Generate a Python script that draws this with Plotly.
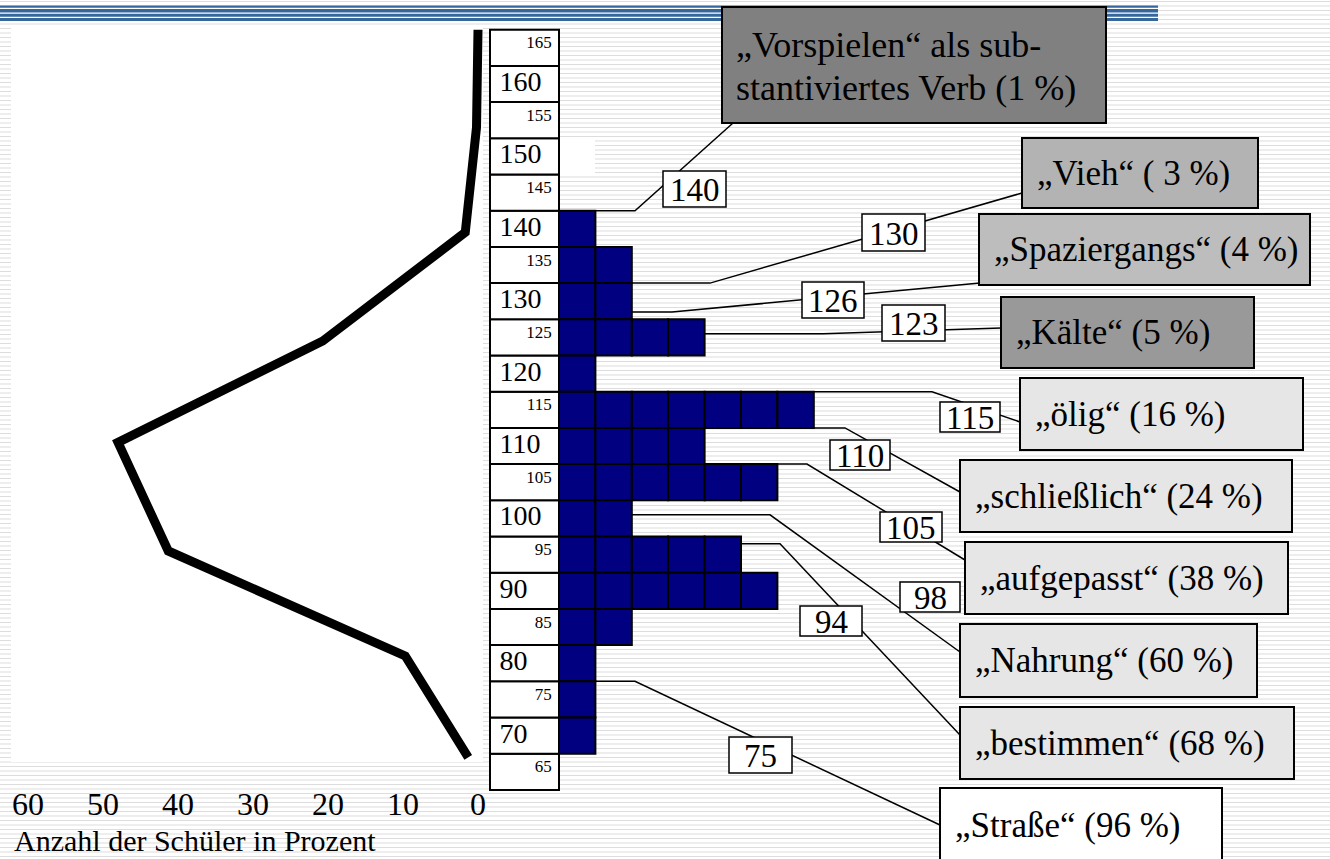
import plotly.graph_objects as go

# ------------------------------------------------------------------ data
# histogram of scores: upper bound of each 5-point bin and number of pupils (squares)
bin_upper = [140, 135, 130, 125, 120, 115, 110, 105, 100, 95, 90, 85, 80, 75, 70]
bin_count = [1, 2, 2, 4, 1, 7, 4, 6, 2, 5, 6, 2, 1, 1, 1]

# labels of the score scale column
scale_major = [160, 150, 140, 130, 120, 110, 100, 90, 80, 70]
scale_minor = [165, 155, 145, 135, 125, 115, 105, 95, 85, 75, 65]

# distribution line (percentage of pupils vs. score)
line_percent = [0, 0.2, 1.7, 20.7, 48, 41.3, 9.7, 1.3]
line_score = [165, 151.5, 137, 122, 108, 93, 78.5, 64.5]

pct_ticks = [60, 50, 40, 30, 20, 10, 0]
axis_title = "Anzahl der Schüler in Prozent"

# item difficulty call-outs
callout_values = [140, 130, 126, 123, 115, 110, 105, 98, 94, 75]
callout_bar_end = [1, 2, 2, 4, 7, 7, 6, 2, 5, 1]
word_labels = [
    ["„Vorspielen“ als sub-", "stantiviertes Verb (1 %)"],
    ["„Vieh“ ( 3 %)"],
    ["„Spaziergangs“ (4 %)"],
    ["„Kälte“ (5 %)"],
    ["„ölig“ (16 %)"],
    ["„schließlich“ (24 %)"],
    ["„aufgepasst“ (38 %)"],
    ["„Nahrung“ (60 %)"],
    ["„bestimmen“ (68 %)"],
    ["„Straße“ (96 %)"],
]

# ------------------------------------------------------------------ layout geometry (pixels)
W, H = 1330, 859
Y140_PX, PX_PER_PT = 210.7, 7.24          # score scale
SQ, X2_0 = 36.4, 559.0                    # one square / left edge of histogram
PCT_PX, PCT_ZERO = 7.5, 478.0             # percent scale
COL_W = (X2_0 - 490.0) / SQ               # scale column width in squares
FONT = "Liberation Serif"

def fx(px):
    return px / W

def fy(py):
    return 1 - py / H

def score_px(v):
    return Y140_PX - (v - 140) * PX_PER_PT

def count_px(n):
    return X2_0 + n * SQ

y_lo = 140 - (H - Y140_PX) / PX_PER_PT
y_hi = 140 + Y140_PX / PX_PER_PT

word_boxes = [  # x0, y0, x1, y1, fill
    (722, 7, 1106, 123, "#808080"),
    (1022, 138, 1258, 208, "#b3b3b3"),
    (979, 214, 1310, 285, "#bdbdbd"),
    (1001, 297, 1254, 368, "#999999"),
    (1020, 378, 1303, 450, "#e6e6e6"),
    (960, 460, 1292, 532, "#e6e6e6"),
    (965, 542, 1288, 614, "#e6e6e6"),
    (960, 624, 1257, 697, "#e6e6e6"),
    (960, 707, 1294, 779, "#e6e6e6"),
    (940, 788, 1222, 875, "#ffffff"),
]
num_boxes = [
    (663, 171, 726, 207), (862, 214, 925, 251), (802, 282, 864, 318),
    (882, 305, 945, 341), (940, 402, 1000, 432), (830, 440, 890, 470),
    (880, 512, 942, 542), (900, 582, 960, 612), (800, 606, 862, 636),
    (729, 737, 792, 773),
]
# elbow x and end point of each connector
connectors = [
    (635, (733, 123)), (710, (1022, 193)), (672, (980, 283)),
    (823, (1001, 328)), (932, (1020, 422)), (845, (960, 492)),
    (807, (965, 560)), (770, (960, 652)), (780, (960, 735)),
    (635, (940, 825)),
]

fig = go.Figure()

# scale column cells
all_cells = sorted(scale_major + scale_minor)
fig.add_trace(go.Bar(
    orientation="h", y=[v - 2.5 for v in all_cells], x=[COL_W] * len(all_cells),
    base=-COL_W, width=5, marker=dict(color="white", line=dict(color="black", width=2)),
    xaxis="x2", yaxis="y", hoverinfo="skip"))

# histogram squares
for k in range(1, max(bin_count) + 1):
    ys = [u - 2.5 for u, c in zip(bin_upper, bin_count) if c >= k]
    fig.add_trace(go.Bar(
        orientation="h", y=ys, x=[1] * len(ys), base=k - 1, width=5,
        marker=dict(color="#000080", line=dict(color="black", width=2)),
        xaxis="x2", yaxis="y", hoverinfo="skip"))

# scale labels
fig.add_trace(go.Scatter(
    x=[-COL_W + 0.26] * len(scale_major), y=[v - 2.5 for v in scale_major],
    text=[str(v) for v in scale_major], mode="text", textposition="middle right",
    textfont=dict(family=FONT, size=28, color="black"), xaxis="x2", yaxis="y",
    hoverinfo="skip", cliponaxis=False))
fig.add_trace(go.Scatter(
    x=[-0.2] * len(scale_minor), y=[v - 2.0 for v in scale_minor],
    text=[str(v) for v in scale_minor], mode="text", textposition="middle left",
    textfont=dict(family=FONT, size=17, color="black"), xaxis="x2", yaxis="y",
    hoverinfo="skip", cliponaxis=False))

# distribution line
fig.add_trace(go.Scatter(
    x=line_percent, y=line_score, mode="lines",
    line=dict(color="black", width=9), xaxis="x", yaxis="y", hoverinfo="skip"))

shapes = []
# striped slide background
path = "".join(f"M0,{fy(py):.5f}H1" for py in [1.5 + 4.5 * i for i in range(int(H / 4.5) + 1)])
shapes.append(dict(type="path", path=path, xref="paper", yref="paper",
                   line=dict(color="#dddddd", width=1), layer="below"))
shapes.append(dict(type="rect", xref="paper", yref="paper", x0=fx(11), x1=fx(483),
                   y0=fy(28), y1=fy(762), fillcolor="white", line=dict(width=0), layer="below"))
shapes.append(dict(type="rect", xref="paper", yref="paper", x0=fx(559), x1=fx(595),
                   y0=fy(138), y1=fy(173), fillcolor="white", line=dict(width=0), layer="below"))
# blue title band
shapes.append(dict(type="rect", xref="paper", yref="paper", x0=0, x1=fx(1158),
                   y0=fy(5.5), y1=fy(21), fillcolor="#35679c", line=dict(width=0), layer="below"))
for py in (8.3, 13.2, 17.3):
    shapes.append(dict(type="line", xref="paper", yref="paper", x0=0, x1=fx(1158),
                       y0=fy(py), y1=fy(py), line=dict(color="white", width=1.2), layer="below"))

# connectors
for val, n, (ex, end) in zip(callout_values, callout_bar_end, connectors):
    sx, sy = count_px(n), score_px(val)
    p = f"M{fx(sx):.5f},{fy(sy):.5f}L{fx(ex):.5f},{fy(sy):.5f}L{fx(end[0]):.5f},{fy(end[1]):.5f}"
    shapes.append(dict(type="path", path=p, xref="paper", yref="paper",
                       line=dict(color="black", width=1.5), layer="above"))

# boxes
for x0, y0, x1, y1, fill in word_boxes:
    shapes.append(dict(type="rect", xref="paper", yref="paper", x0=fx(x0), x1=fx(x1),
                       y0=fy(y0), y1=fy(y1), fillcolor=fill,
                       line=dict(color="black", width=2), layer="above"))
for x0, y0, x1, y1 in num_boxes:
    shapes.append(dict(type="rect", xref="paper", yref="paper", x0=fx(x0), x1=fx(x1),
                       y0=fy(y0), y1=fy(y1), fillcolor="white",
                       line=dict(color="black", width=1.5), layer="above"))

annotations = []
for (x0, y0, x1, y1, fill), lines in zip(word_boxes, word_labels):
    if len(lines) == 1:
        yc = (y0 + y1) / 2 if y1 <= H else 825
        annotations.append(dict(text=lines[0], x=fx(x0 + 13), y=fy(yc), xref="paper", yref="paper",
                                xanchor="left", yanchor="middle", showarrow=False,
                                font=dict(family=FONT, size=35, color="black")))
    else:
        for i, t in enumerate(lines):
            annotations.append(dict(text=t, x=fx(x0 + 12), y=fy(45 + 43 * i), xref="paper", yref="paper",
                                    xanchor="left", yanchor="middle", showarrow=False,
                                    font=dict(family=FONT, size=36, color="black")))
for (x0, y0, x1, y1), val in zip(num_boxes, callout_values):
    annotations.append(dict(text=str(val), x=fx((x0 + x1) / 2), y=fy((y0 + y1) / 2 + 1),
                            xref="paper", yref="paper", xanchor="center", yanchor="middle",
                            showarrow=False, font=dict(family=FONT, size=33, color="black")))
annotations.append(dict(text=axis_title, x=fx(12), y=fy(840), xref="paper", yref="paper",
                        xanchor="left", yanchor="middle", showarrow=False,
                        font=dict(family=FONT, size=30, color="black")))

fig.update_layout(
    template="none",
    width=W, height=H, autosize=False,
    margin=dict(l=0, r=0, t=0, b=0, pad=0),
    paper_bgcolor="white", plot_bgcolor="rgba(0,0,0,0)",
    showlegend=False, barmode="overlay", hovermode=False,
    shapes=shapes, annotations=annotations,
    xaxis=dict(domain=[fx(28), fx(490)], range=[60, 60 - (490 - 28) / PCT_PX],
               anchor="free", position=fy(782), tickvals=pct_ticks, automargin=False,
               ticks="", showline=False, showgrid=False, zeroline=False,
               tickfont=dict(family=FONT, size=32, color="black")),
    yaxis=dict(domain=[0, 1], range=[y_lo, y_hi], visible=False, automargin=False),
    xaxis2=dict(domain=[0, 1], range=[-X2_0 / SQ, (W - X2_0) / SQ], anchor="y",
                visible=False, automargin=False),
)

fig.write_html("out.html", config={"displayModeBar": False},
               post_script="document.body.style.margin='0px';")
